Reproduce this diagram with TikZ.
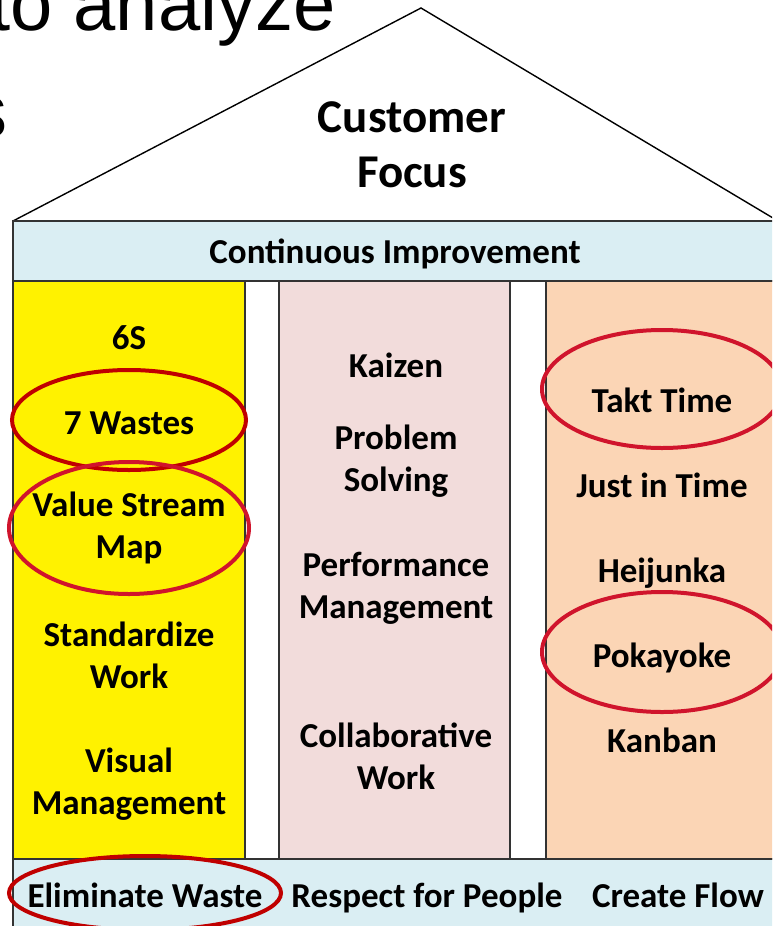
\documentclass[tikz,border=0pt]{standalone}
\usepackage{fontspec}
\setmainfont{Carlito}
\newfontfamily\slidefont{Liberation Sans}
\usetikzlibrary{positioning}
\definecolor{bandblue}{HTML}{DAEEF3}
\definecolor{pillarpink}{HTML}{F2DCDB}
\definecolor{pillarpeach}{HTML}{FBD5B5}
\definecolor{ringdark}{HTML}{C00000}
\definecolor{ringred}{HTML}{D0142C}

\begin{document}
\begin{tikzpicture}[x=0.5pt, y=-0.5pt, on grid,
        lbl/.style={font=\bfseries\fontsize{17.5}{21}\selectfont, align=center, inner sep=0pt},
        one/.style={lbl, text height=0.72em, text depth=0.22em},
        roof/.style={font=\bfseries\fontsize{23.5}{27.5}\selectfont, align=center, inner sep=0pt},
        slide/.style={font=\slidefont\fontsize{38}{42}\selectfont, anchor=base east, inner sep=0pt},
        wall/.style={draw=black!80, line width=0.8pt},
        ring/.style={line width=2pt}]
        \clip (0,0) rectangle (772,926);
        \node[slide] (frag1) at (336,30) {to analyze};
        \node[slide] (frag2) at (8,137) {s};
        \draw[line width=0.7pt] (13,221) -- (421,8) -- (778,221);
        \draw[wall, fill=bandblue] (13,221) rectangle (778,281);
        \draw[wall, fill=yellow] (13,281) rectangle (245,859);
        \draw[wall, fill=pillarpink] (279,281) rectangle (510,859);
        \draw[wall, fill=pillarpeach] (546,281) rectangle (778,859);
        \draw[wall, fill=bandblue] (13,859) rectangle (778,940);
        \node[roof] (cust) at (412,145) {Customer\\Focus};
        \node[one] (cont) at (395,258) {Continuous Improvement};
        \node[one] (sixs) at (129,344) {6S};
        \node[one] (wastes) [below=42.5pt of sixs] {7 Wastes};
        \node[lbl] (vsm) [below=49.5pt of wastes] {Value Stream\\Map};
        \node[lbl] (stdwork) [below=63.5pt of vsm] {Standardize\\Work};
        \node[lbl] (visual) [below=64.5pt of stdwork] {Visual\\Management};
        \node[one] (kaizen) at (396,372) {Kaizen};
        \node[lbl] (problem) [below=44.5pt of kaizen] {Problem\\Solving};
        \node[lbl] (perf) [below=63.5pt of problem] {Performance\\Management};
        \node[lbl] (collab) [below=84pt of perf] {Collaborative\\Work};
        \node[one] (takt) at (662,407) {Takt Time};
        \node[one] (jit) [below=42.5pt of takt] {Just in Time};
        \node[one] (heijunka) [below=42.5pt of jit] {Heijunka};
        \node[one] (poka) [below=42.5pt of heijunka] {Pokayoke};
        \node[one] (kanban) [below=42.5pt of poka] {Kanban};
        \node[one] (elim) at (145,902) {Eliminate Waste};
        \node[one] (respect) [right=141pt of elim] {Respect for People};
        \node[one] (flow) [right=125.5pt of respect] {Create Flow};
        \draw[ring, ringdark] ([yshift=4.5pt]wastes.center) ellipse [x radius=58.5pt, y radius=25pt];
        \draw[ring, ringred] (vsm.center) ellipse [x radius=60pt, y radius=33pt];
        \draw[ring, ringred] ([yshift=9pt]takt.center) ellipse [x radius=60pt, y radius=29.5pt];
        \draw[ring, ringred] ([yshift=5pt]poka.center) ellipse [x radius=60pt, y radius=30pt];
        \draw[ring, ringdark] ([yshift=4.5pt]elim.center) ellipse [x radius=68pt, y radius=18.5pt];
    \end{tikzpicture}
\end{document}
